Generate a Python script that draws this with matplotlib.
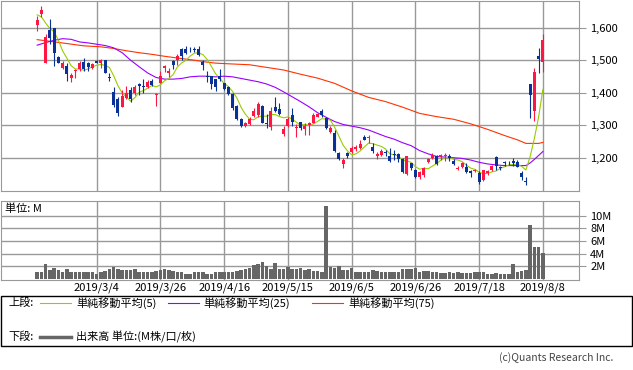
import numpy as np
import pandas as pd
import matplotlib
matplotlib.use("Agg")
import matplotlib.pyplot as plt
from matplotlib.patches import Rectangle
from matplotlib.lines import Line2D

plt.rcParams['font.family'] = ['Noto Sans CJK JP', 'DejaVu Sans']

# daily OHLC (yen), 2019/2/12 .. 2019/8/8
opens = [1607, 1641, 1492, 1592, 1599, 1510, 1477, 1483, 1446, 1467,
         1473, 1495, 1490, 1475, 1497, 1490, 1500, 1449, 1403, 1380,
         1358, 1385, 1408, 1401, 1426, 1421, 1417, 1437, 1393, 1431,
         1477, 1461, 1498, 1500, 1534, 1534, 1535, 1534, 1534, 1495,
         1451, 1453, 1442, 1451, 1429, 1417, 1396, 1360, 1319, 1299,
         1305, 1329, 1332, 1361, 1309, 1294, 1358, 1349, 1274, 1298,
         1332, 1291, 1310, 1290, 1301, 1309, 1327, 1344, 1324, 1279,
         1276, 1215, 1181, 1217, 1219, 1227, 1230, 1266, 1261, 1235,
         1205, 1210, 1220, 1205, 1213, 1213, 1197, 1152, 1184, 1162,
         1143, 1149, 1189, 1200, 1205, 1203, 1205, 1205, 1191, 1167,
         1174, 1174, 1161, 1159, 1154, 1133, 1154, 1162, 1203, 1174,
         1187, 1189, 1191, 1189, 1154, 1130, 1427, 1345, 1512, 1495]
highs = [1635, 1665, 1580, 1626, 1599, 1512, 1497, 1490, 1461, 1473,
         1497, 1507, 1495, 1492, 1500, 1505, 1502, 1461, 1419, 1388,
         1408, 1421, 1419, 1424, 1429, 1443, 1439, 1441, 1398, 1467,
         1485, 1475, 1500, 1519, 1536, 1544, 1541, 1541, 1544, 1500,
         1467, 1453, 1442, 1473, 1431, 1421, 1398, 1363, 1322, 1312,
         1325, 1352, 1373, 1363, 1334, 1358, 1388, 1368, 1298, 1327,
         1352, 1304, 1312, 1307, 1312, 1337, 1337, 1350, 1327, 1298,
         1286, 1220, 1200, 1220, 1237, 1240, 1256, 1271, 1271, 1245,
         1220, 1227, 1225, 1230, 1225, 1215, 1199, 1205, 1186, 1166,
         1159, 1174, 1200, 1215, 1210, 1213, 1215, 1213, 1197, 1176,
         1189, 1184, 1164, 1166, 1159, 1164, 1164, 1179, 1205, 1177,
         1191, 1192, 1200, 1194, 1159, 1143, 1427, 1475, 1536, 1580]
lows = [1590, 1633, 1492, 1551, 1483, 1490, 1472, 1437, 1434, 1446,
        1467, 1467, 1467, 1473, 1490, 1475, 1461, 1437, 1358, 1330,
        1356, 1380, 1373, 1393, 1393, 1398, 1414, 1422, 1360, 1429,
        1464, 1449, 1472, 1485, 1500, 1518, 1526, 1526, 1512, 1470,
        1434, 1412, 1406, 1437, 1408, 1393, 1347, 1317, 1294, 1294,
        1300, 1327, 1327, 1307, 1291, 1286, 1342, 1332, 1268, 1296,
        1298, 1266, 1286, 1271, 1271, 1307, 1325, 1327, 1288, 1276,
        1220, 1194, 1169, 1200, 1217, 1223, 1227, 1254, 1245, 1217,
        1197, 1205, 1207, 1188, 1194, 1189, 1154, 1149, 1164, 1138,
        1135, 1143, 1184, 1197, 1179, 1194, 1192, 1192, 1179, 1162,
        1171, 1154, 1143, 1156, 1120, 1131, 1149, 1159, 1162, 1164,
        1177, 1179, 1177, 1172, 1133, 1118, 1322, 1315, 1461, 1465]
closes = [1622, 1653, 1571, 1569, 1521, 1492, 1490, 1459, 1454, 1470,
          1490, 1473, 1480, 1487, 1492, 1502, 1461, 1446, 1363, 1339,
          1390, 1398, 1382, 1417, 1421, 1417, 1434, 1424, 1395, 1451,
          1482, 1467, 1485, 1512, 1512, 1521, 1533, 1531, 1516, 1485,
          1447, 1427, 1417, 1443, 1412, 1396, 1352, 1319, 1298, 1307,
          1319, 1344, 1365, 1309, 1305, 1344, 1344, 1335, 1289, 1319,
          1312, 1294, 1291, 1299, 1307, 1332, 1334, 1332, 1291, 1293,
          1223, 1197, 1194, 1205, 1232, 1235, 1243, 1256, 1264, 1223,
          1213, 1223, 1215, 1191, 1208, 1197, 1156, 1205, 1169, 1143,
          1156, 1171, 1197, 1210, 1182, 1208, 1210, 1199, 1182, 1171,
          1184, 1156, 1154, 1162, 1128, 1162, 1159, 1177, 1176, 1171,
          1184, 1187, 1186, 1174, 1143, 1127, 1393, 1464, 1505, 1563]

# volume (millions of shares)
volumes = [1.0, 1.0, 2.35, 1.35, 1.75, 1.35, 1.1, 1.6, 1.15, 1.15,
           1.1, 1.15, 1.0, 1.0, 0.8, 1.1, 1.25, 1.5, 1.9, 1.5,
           1.4, 1.4, 1.35, 1.5, 1.0, 1.0, 1.0, 1.0, 1.2, 1.4,
           1.5, 1.4, 1.25, 1.15, 1.0, 0.7, 0.8, 1.0, 1.1, 1.0,
           0.8, 0.7, 1.0, 1.15, 1.15, 1.15, 1.15, 1.25, 1.4, 1.6,
           1.75, 2.25, 2.35, 2.65, 2.1, 1.6, 2.5, 1.5, 1.5, 1.9,
           1.5, 1.5, 1.65, 1.4, 1.6, 1.2, 1.2, 1.1, 11.5, 1.9,
           1.75, 2.0, 1.4, 1.4, 1.75, 1.05, 1.1, 1.0, 1.0, 1.4,
           1.2, 1.1, 1.0, 1.1, 1.05, 1.0, 1.6, 1.6, 1.5, 1.75,
           1.0, 1.2, 1.2, 1.1, 1.0, 0.9, 0.9, 1.0, 0.9, 1.0,
           0.9, 0.9, 0.9, 1.0, 1.1, 1.0, 0.75, 0.75, 0.9, 0.8,
           0.8, 0.8, 2.3, 1.0, 1.2, 1.4, 8.5, 5.1, 5.1, 4.05]

# moving averages
ma5_head = [1639, 1633, 1614, 1597]
ma25_idx = [0, 2, 4, 6, 8, 10, 12, 14, 16, 18, 20, 22, 24, 26, 28, 30, 32, 34, 36, 38,
            40, 42, 44, 46, 48, 50, 52, 54, 56, 58, 60, 62, 64, 66, 68, 70, 72, 74, 76, 78,
            80, 82, 84, 86, 88, 90, 92, 94, 96, 98, 100, 102, 104, 106, 108, 110, 112, 114,
            115, 116, 117, 118, 119]
ma25_val = [1546, 1554, 1561, 1566, 1564, 1556, 1553, 1549, 1545, 1538, 1523, 1500, 1480, 1461,
            1447, 1442, 1442, 1444, 1449, 1451, 1451, 1449, 1451, 1449, 1444, 1439, 1434, 1427,
            1417, 1403, 1388, 1373, 1357, 1339, 1325, 1312, 1303, 1298, 1293, 1286, 1276, 1266,
            1258, 1247, 1238, 1223, 1213, 1205, 1203, 1201, 1199, 1194, 1187, 1182, 1179, 1177,
            1177, 1177, 1177, 1185, 1196, 1208, 1220]
ma75_idx = [0, 3, 7, 11, 15, 18, 21, 24, 27, 30, 34, 37, 40, 42, 45, 50, 54, 58, 62, 66,
            70, 74, 78, 82, 86, 90, 94, 98, 102, 106, 110, 113, 115, 117, 118, 119]
ma75_val = [1563, 1558, 1551, 1544, 1541, 1536, 1529, 1523, 1518, 1512, 1505, 1500, 1494, 1491,
            1489, 1486, 1478, 1470, 1457, 1445, 1429, 1406, 1386, 1373, 1356, 1337, 1327, 1319,
            1305, 1288, 1269, 1256, 1245, 1245, 1245, 1248]

tick_pos = [14, 29, 44, 59, 74, 89, 104, 119]
tick_labels = ['2019/3/4', '2019/3/26', '2019/4/16', '2019/5/15',
               '2019/6/5', '2019/6/26', '2019/7/18', '2019/8/8']
price_ticks = [1200, 1300, 1400, 1500, 1600]
vol_ticks = [2, 4, 6, 8, 10]

RED = '#ff1744'
BLUE = '#0a3296'
GRID = '#999999'
W, H = 633, 370

o = np.array(opens, float)
h = np.array(highs, float)
l = np.array(lows, float)
c = np.array(closes, float)
x = np.arange(len(c))
ma5 = pd.Series(c).rolling(5).mean().to_numpy()
ma5[:4] = ma5_head

fig = plt.figure(figsize=(W / 100, H / 100), dpi=100)

# ---- price panel
ax1 = fig.add_axes([1 / W, 1 - 190.7 / H, 578 / W, 190.2 / H])
ax1.set_xlim(-8.5, 127.5)
ax1.set_ylim(1100, 1683)
ax1.set_xticks(tick_pos)
ax1.set_yticks(price_ticks)
ax1.set_yticklabels([f"{v:,}" for v in price_ticks])
ax1.grid(color=GRID, lw=1)
ax1.set_axisbelow(True)
ax1.yaxis.tick_right()
ax1.tick_params(axis='y', length=5, color=GRID, pad=3, labelsize=8)
ax1.tick_params(axis='x', length=0, labelbottom=False)
for s in ax1.spines.values():
    s.set_color(GRID)

ax1.plot(ma75_idx, ma75_val, color='#ff3300', lw=0.8, zorder=2)
ax1.plot(ma25_idx, ma25_val, color='#9900ff', lw=0.8, zorder=2)
ax1.plot(x, ma5, color='#99cc00', lw=0.8, zorder=2)

col = np.where(c >= o, RED, BLUE)
ax1.vlines(x, l, h, colors=col, lw=0.8, zorder=3)
body = np.maximum(np.abs(c - o), 2)
ax1.bar(x, body, bottom=np.minimum(o, c), width=0.72, color=col, lw=0, zorder=4)

# ---- volume panel
ax2 = fig.add_axes([1 / W, 1 - 280 / H, 578 / W, 79 / H])
ax2.set_xlim(-8.5, 127.5)
ax2.set_ylim(-0.2, 12.35)
ax2.bar(x, volumes, width=0.78, color='#666666', lw=0, zorder=3)
ax2.set_xticks(tick_pos)
ax2.set_xticklabels(tick_labels)
ax2.set_yticks(vol_ticks)
ax2.set_yticklabels([f"{v}M" for v in vol_ticks])
ax2.grid(color=GRID, lw=1)
ax2.set_axisbelow(True)
ax2.yaxis.tick_right()
ax2.tick_params(axis='y', length=5, color=GRID, pad=3, labelsize=8)
ax2.tick_params(axis='x', length=0, pad=1.5, labelsize=8)
for s in ax2.spines.values():
    s.set_color(GRID)
fig.text(5 / W, 1 - 209 / H, '単位: M', va='center', size=8)

# ---- legend box
fig.patches.append(Rectangle((0.5 / W, 1 - 346 / H), 631.5 / W, 50.3 / H,
                             transform=fig.transFigure, fill=False, ec='black', lw=1))
y1 = 1 - 303 / H
y2 = 1 - 337 / H
fig.text(8 / W, y1, '上段:', va='center', size=8)
items = [(40, 76, '#99cc00', '単純移動平均(5)'),
         (168, 203, '#9900ff', '単純移動平均(25)'),
         (312, 348, '#ff3300', '単純移動平均(75)')]
for x0, tx, clr, lab in items:
    fig.lines.append(Line2D([x0 / W, (x0 + 31) / W], [y1, y1], color=clr, lw=0.8,
                            transform=fig.transFigure))
    fig.text(tx / W, y1, lab, va='center', size=8)
fig.text(8 / W, y2, '下段:', va='center', size=8)
fig.lines.append(Line2D([40 / W, 71 / W], [y2, y2], color='#666666', lw=2.5,
                        transform=fig.transFigure))
fig.text(76 / W, y2, '出来高 単位:(M株/口/枚)', va='center', size=8)

fig.text(613 / W, 1 - 358 / H, '(c)Quants Research Inc.', ha='right', va='center',
         size=7.5, color='#444444')

fig.savefig('out.png', dpi=100)
